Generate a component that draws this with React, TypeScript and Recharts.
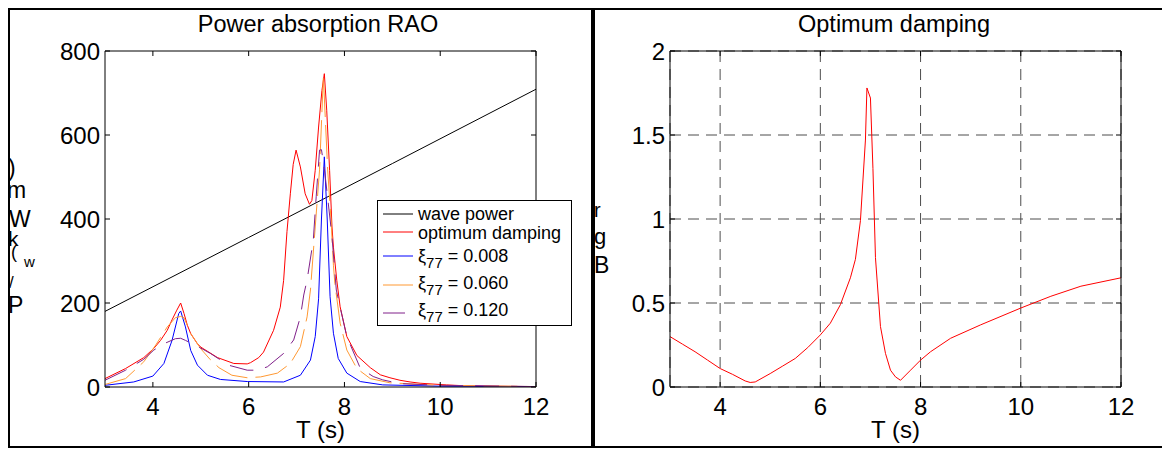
import { LineChart, Line, XAxis, YAxis, CartesianGrid, Legend } from "recharts";

const FONT = '"Liberation Sans", Arial, Helvetica, sans-serif';

// x ticks shared by both panels (wave period, s)
const periodTicks = [4, 6, 8, 10, 12];
const powerTicks = [0, 200, 400, 600, 800];
const dampTicks = [0, 0.5, 1, 1.5, 2];

// left panel: power absorption RAO (kW/m)
const waveT = [3, 6, 9, 12];
const waveP = [180, 356, 532, 709];

const optT = [3, 3.43, 3.81, 4.02, 4.16, 4.3, 4.4, 4.5, 4.58, 4.65, 4.72, 4.79, 4.93, 5, 5.35, 5.69, 5.97, 6.04, 6.21, 6.31, 6.52, 6.66, 6.73, 6.8, 6.87, 6.93, 6.99, 7.08, 7.18, 7.27, 7.32, 7.39, 7.46, 7.53, 7.58, 7.63, 7.69, 7.74, 7.77, 7.84, 7.91, 8.05, 8.26, 8.54, 8.75, 8.95, 9.16, 9.37, 9.58, 10.13, 10.5, 11, 12];
const optP = [20, 44, 70, 92, 111, 135, 160, 183, 200, 175, 147, 127, 103, 95, 70, 56, 55, 58, 70, 83, 135, 190, 254, 370, 460, 530, 564, 524, 460, 435, 444, 516, 619, 706, 746, 659, 516, 381, 333, 254, 191, 120, 75, 46, 29, 22, 16, 12, 9, 5, 3, 2, 1];

const lowT = [3, 3.6, 4, 4.23, 4.4, 4.54, 4.58, 4.68, 4.79, 4.93, 5.14, 5.41, 5.97, 6.73, 7.08, 7.29, 7.39, 7.46, 7.52, 7.58, 7.64, 7.7, 7.77, 7.87, 8.05, 8.33, 8.8, 10, 12];
const lowP = [4, 12, 26, 56, 111, 175, 181, 143, 87, 52, 28, 18, 13, 12, 28, 64, 120, 210, 400, 548, 400, 215, 128, 68, 33, 13, 5, 2, 1];

const midT = [3, 3.43, 3.81, 4.06, 4.3, 4.47, 4.58, 4.65, 4.79, 5, 5.2, 5.38, 5.65, 5.97, 6.25, 6.6, 6.87, 7.08, 7.22, 7.29, 7.39, 7.48, 7.56, 7.65, 7.72, 7.77, 7.8, 7.91, 8.05, 8.26, 8.54, 8.95, 10, 12];
const midP = [6, 20, 60, 100, 143, 165, 168, 165, 127, 91, 65, 46, 28, 22, 24, 33, 56, 96, 167, 231, 381, 517, 739, 517, 398, 290, 246, 152, 88, 44, 20, 10, 4, 1];

const highT = [3, 3.43, 3.81, 4.02, 4.23, 4.47, 4.58, 4.68, 4.93, 5.2, 5.58, 5.97, 6.18, 6.39, 6.73, 6.94, 7.08, 7.15, 7.22, 7.35, 7.41, 7.48, 7.52, 7.58, 7.65, 7.74, 7.83, 7.91, 8.05, 8.33, 8.6, 8.8, 9.16, 10, 12];
const highP = [16, 40, 66, 88, 103, 115, 116, 111, 97, 80, 52, 40, 40, 48, 80, 112, 167, 219, 255, 350, 453, 564, 565, 520, 450, 358, 231, 190, 120, 45, 25, 17, 8, 4, 1];

// right panel: optimum damping
const dampT = [3, 3.25, 3.5, 3.75, 4, 4.25, 4.5, 4.6, 4.7, 5, 5.25, 5.5, 5.75, 6, 6.2, 6.4, 6.6, 6.7, 6.8, 6.9, 6.93, 7, 7.05, 7.1, 7.2, 7.3, 7.4, 7.5, 7.6, 7.8, 8, 8.2, 8.6, 9.2, 10, 10.6, 11.2, 12];
const dampB = [0.3, 0.255, 0.21, 0.16, 0.11, 0.075, 0.036, 0.027, 0.03, 0.08, 0.125, 0.17, 0.235, 0.31, 0.38, 0.49, 0.65, 0.76, 0.99, 1.47, 1.78, 1.72, 1.3, 0.77, 0.36, 0.2, 0.1, 0.06, 0.04, 0.1, 0.16, 0.21, 0.29, 0.37, 0.47, 0.54, 0.6, 0.65];

const seriesNames = ["wave power", "optimum damping", "ξ77 = 0.008", "ξ77 = 0.060", "ξ77 = 0.120"];
const seriesColors = ["#000000", "#ff0000", "#0000ff", "#ff9933", "#80208a"];
const seriesDash = [undefined, undefined, undefined, "34 8", "24 12"];

const toPts = (t: number[], v: number[]) => t.map((x, i) => ({ t: x, v: v[i] }));
const seriesData = [toPts(waveT, waveP), toPts(optT, optP), toPts(lowT, lowP), toPts(midT, midP), toPts(highT, highP)];

const tickFont = { fill: "#000", fontSize: 24, fontFamily: FONT };
const blank = () => "";

// legend rows: text centre / line centre inside the box
const rowText = [13, 32, 55, 82, 109];
const rowLine = [13, 31, 55, 84, 112];

function LegendBox() {
    return (
        <div
            style={{
                position: "relative",
                width: 195,
                height: 126,
                boxSizing: "border-box",
                border: "1px solid #000",
                background: "#fff",
                fontFamily: FONT,
                fontSize: 18,
                color: "#000",
            }}
        >
            {seriesNames.map((name, i) => (
                <div key={name}>
                    <svg style={{ position: "absolute", left: 5, top: rowLine[i] - 3 }} width={31} height={6}>
                        <line x1={0} y1={3} x2={30} y2={3} stroke={seriesColors[i]} strokeWidth={1} strokeDasharray={i === 4 ? "22 20" : undefined} />
                    </svg>
                    <div style={{ position: "absolute", left: 40, top: rowText[i] - 11, height: 22, lineHeight: "22px", whiteSpace: "nowrap" }}>
                        {name.startsWith("ξ77") ? (
                            <>
                                ξ<sub style={{ fontSize: 15, verticalAlign: "-6px", lineHeight: 0 }}>77</sub>
                                {name.slice(3)}
                            </>
                        ) : (
                            name
                        )}
                    </div>
                </div>
            ))}
        </div>
    );
}

// broken rotated y labels, drawn as loose glyphs like in the export
const leftGlyphs = [
    { ch: ")", x: 0, y: 168, s: 23 },
    { ch: "m", x: -1, y: 190, s: 23 },
    { ch: "W", x: 1, y: 219, s: 23 },
    { ch: "k", x: 0, y: 238, s: 21 },
    { ch: "(", x: 3, y: 250, s: 18 },
    { ch: "w", x: 16, y: 259, s: 15 },
    { ch: "/", x: 1, y: 280, s: 17 },
    { ch: "P", x: 0, y: 305, s: 23 },
];
const rightGlyphs = [
    { ch: "r", x: 586, y: 209, s: 20 },
    { ch: "g", x: 586, y: 236, s: 22 },
    { ch: "B", x: 586, y: 265, s: 23 },
];

export default function App() {
    return (
        <div style={{ position: "relative", width: 1160, height: 440, overflow: "hidden", background: "#fff", fontFamily: FONT }}>
            <div style={{ position: "absolute", left: 110, top: 4, width: 400, textAlign: "center", fontSize: 23.5, lineHeight: "24px" }}>
                Power absorption RAO
            </div>
            <div style={{ position: "absolute", left: 686, top: 4, width: 400, textAlign: "center", fontSize: 23.5, lineHeight: "24px" }}>
                Optimum damping
            </div>

            <div style={{ position: "absolute", left: 0, top: 0 }}>
                <LineChart width={583} height={438} margin={{ top: 42, right: 54, bottom: 8, left: 37 }}>
                    <XAxis
                        xAxisId="b"
                        type="number"
                        dataKey="t"
                        domain={[3, 12]}
                        ticks={periodTicks}
                        interval={0}
                        allowDataOverflow
                        stroke="#000"
                        tickSize={-5}
                        tickMargin={16}
                        tick={tickFont}
                        height={51}
                        label={{ value: "T (s)", position: "insideBottom", offset: 0, fill: "#000", fontSize: 24, fontFamily: FONT }}
                    />
                    <XAxis xAxisId="top" orientation="top" type="number" dataKey="t" domain={[3, 12]} ticks={periodTicks} interval={0} allowDataOverflow stroke="#000" tickSize={-5} tickFormatter={blank} height={1} />
                    <YAxis yAxisId="l" type="number" domain={[0, 800]} ticks={powerTicks} interval={0} allowDataOverflow stroke="#000" tickSize={-5} tickMargin={10} tick={tickFont} width={60} />
                    <YAxis yAxisId="r" orientation="right" type="number" domain={[0, 800]} ticks={powerTicks} interval={0} allowDataOverflow stroke="#000" tickSize={-5} tickFormatter={blank} width={1} />
                    {seriesData.map((d, i) => (
                        <Line
                            key={seriesNames[i]}
                            xAxisId="b"
                            yAxisId="l"
                            data={d}
                            dataKey="v"
                            name={seriesNames[i]}
                            type="linear"
                            stroke={seriesColors[i]}
                            strokeWidth={1}
                            strokeDasharray={seriesDash[i]}
                            dot={false}
                            activeDot={false}
                            isAnimationActive={false}
                        />
                    ))}
                    <Legend
                        layout="vertical"
                        align="center"
                        verticalAlign="middle"
                        content={() => <LegendBox />}
                        wrapperStyle={{ left: 369, top: 192, width: 195, height: 126 }}
                    />
                </LineChart>
            </div>

            <div style={{ position: "absolute", left: 592, top: 0 }}>
                <LineChart width={560} height={438} margin={{ top: 42, right: 38, bottom: 8, left: 15 }}>
                    <CartesianGrid xAxisId="b" yAxisId="l" stroke="#4d4d4d" strokeDasharray="11 7" />
                    <XAxis
                        xAxisId="b"
                        type="number"
                        dataKey="t"
                        domain={[3, 12]}
                        ticks={periodTicks}
                        interval={0}
                        allowDataOverflow
                        stroke="#000"
                        tickSize={-5}
                        tickMargin={16}
                        tick={tickFont}
                        height={51}
                        label={{ value: "T (s)", position: "insideBottom", offset: 0, fill: "#000", fontSize: 24, fontFamily: FONT }}
                    />
                    <XAxis xAxisId="top" orientation="top" type="number" dataKey="t" domain={[3, 12]} ticks={periodTicks} interval={0} allowDataOverflow stroke="#000" tickSize={-5} tickFormatter={blank} height={1} />
                    <YAxis yAxisId="l" type="number" domain={[0, 2]} ticks={dampTicks} interval={0} allowDataOverflow stroke="#000" tickSize={-5} tickMargin={10} tick={tickFont} width={55} />
                    <YAxis yAxisId="r" orientation="right" type="number" domain={[0, 2]} ticks={dampTicks} interval={0} allowDataOverflow stroke="#000" tickSize={-5} tickFormatter={blank} width={1} />
                    <Line
                        xAxisId="b"
                        yAxisId="l"
                        data={toPts(dampT, dampB)}
                        dataKey="v"
                        name="optimum damping"
                        type="linear"
                        stroke="#ff0000"
                        strokeWidth={1}
                        dot={false}
                        activeDot={false}
                        isAnimationActive={false}
                    />
                </LineChart>
            </div>

            <svg style={{ position: "absolute", left: 0, top: 0, pointerEvents: "none" }} width={1160} height={440}>
                {[...leftGlyphs, ...rightGlyphs].map((g, i) => (
                    <text key={i} x={g.x} y={g.y} fontSize={g.s} fontFamily={FONT} fill="#000">
                        {g.ch}
                    </text>
                ))}
            </svg>

            {/* figure frame and the divider between the two panels */}
            <div style={{ position: "absolute", left: 0, top: 0, width: 1160, height: 440, boxSizing: "border-box", border: "2px solid #000" }} />
            <div style={{ position: "absolute", left: 583, top: 0, width: 4, height: 440, background: "#000" }} />
        </div>
    );
}
